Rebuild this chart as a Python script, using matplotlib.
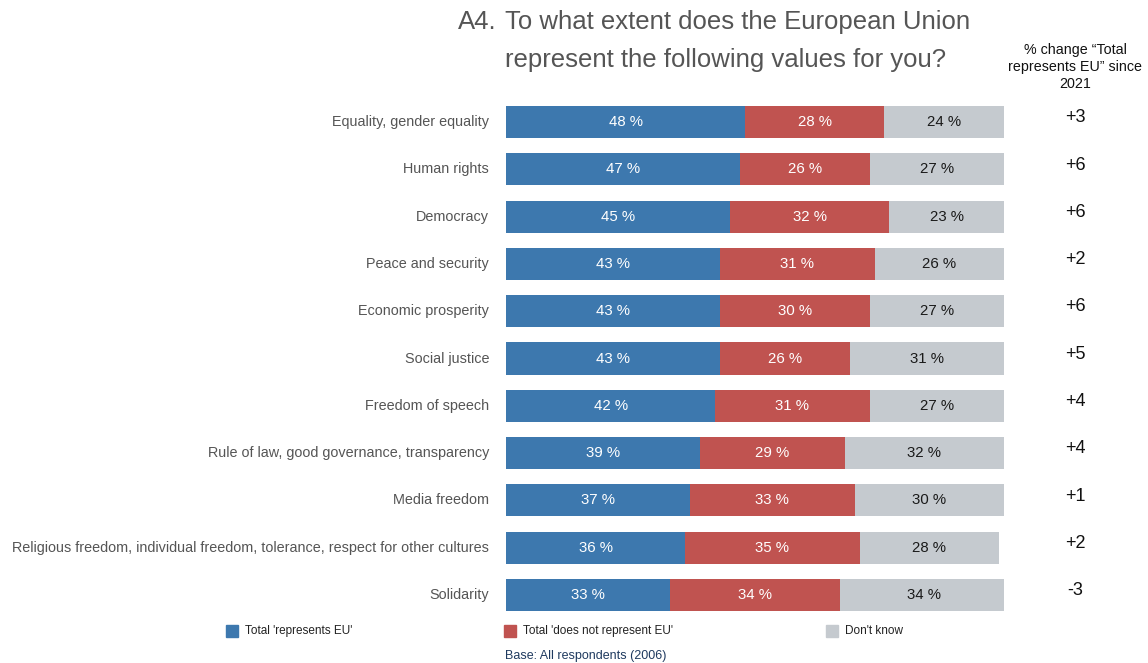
import matplotlib
matplotlib.use("Agg")
import matplotlib.pyplot as plt
from matplotlib.patches import Rectangle

plt.rcParams["font.family"] = ["Liberation Sans", "DejaVu Sans"]

categories = [
    "Equality, gender equality",
    "Human rights",
    "Democracy",
    "Peace and security",
    "Economic prosperity",
    "Social justice",
    "Freedom of speech",
    "Rule of law, good governance, transparency",
    "Media freedom",
    "Religious freedom, individual freedom, tolerance, respect for other cultures",
    "Solidarity",
]
represents = [48, 47, 45, 43, 43, 43, 42, 39, 37, 36, 33]
not_represent = [28, 26, 32, 31, 30, 26, 31, 29, 33, 35, 34]
dont_know = [24, 27, 23, 26, 27, 31, 27, 32, 30, 28, 34]
change = [3, 6, 6, 2, 6, 5, 4, 4, 1, 2, -3]

series_names = ["Total 'represents EU'", "Total 'does not represent EU'", "Don't know"]
colors = ["#3d78ae", "#c05350", "#c5cacf"]
text_colors = ["white", "white", "#1a1a1a"]

W, H = 1148, 663
fig = plt.figure(figsize=(W / 100, H / 100), dpi=100)

# axes placed in pixel terms: bars span x 506..1004, rows centred 122..595
top_px, bot_px = 98.35, 618.65
ax = fig.add_axes([506 / W, 1 - bot_px / H, 498 / W, (bot_px - top_px) / H])
ax.set_xlim(0, 100)
ax.set_ylim(len(categories) - 0.5, -0.5)
ax.axis("off")

y = list(range(len(categories)))
left = [0] * len(categories)
for vals, col, tcol in zip([represents, not_represent, dont_know], colors, text_colors):
    ax.barh(y, vals, left=left, height=0.68, color=col, edgecolor="none")
    for i, v in enumerate(vals):
        ax.text(left[i] + v / 2, i, f"{v} %", ha="center", va="center",
                color=tcol, fontsize=10.8)
    left = [l + v for l, v in zip(left, vals)]

for i, cat in enumerate(categories):
    ax.text(-3.4, i, cat, ha="right", va="center", color="#555555", fontsize=10.4)

for i, c in enumerate(change):
    s = f"+{c}" if c > 0 else f"{c}"
    ax.text(114.3, i - 0.09, s, ha="center", va="center", color="#111111", fontsize=13)

# title
fig.text(458 / W, 1 - 22 / H, "A4.", ha="left", va="center", color="#555555", fontsize=18.5)
fig.text(505 / W, 1 - 22 / H, "To what extent does the European Union",
         ha="left", va="center", color="#555555", fontsize=18.5)
fig.text(505 / W, 1 - 60 / H, "represent the following values for you?",
         ha="left", va="center", color="#555555", fontsize=18.5)

fig.text(1075 / W, 1 - 67 / H, "% change \u201cTotal\nrepresents EU\u201d since\n2021",
         ha="center", va="center", color="#111111", fontsize=10.3, linespacing=1.25)

# legend
leg_x = [226, 504, 826]
for x0, name, col in zip(leg_x, series_names, colors):
    fig.patches.append(Rectangle((x0 / W, 1 - 637 / H), 12 / W, 12 / H,
                                 transform=fig.transFigure, color=col))
    fig.text((x0 + 19) / W, 1 - 631 / H, name, ha="left", va="center",
             color="#222222", fontsize=8.5)

fig.text(505 / W, 1 - 656 / H, "Base: All respondents (2006)", ha="left", va="center",
         color="#1f3a5f", fontsize=9)

fig.savefig("out.png", dpi=100)
